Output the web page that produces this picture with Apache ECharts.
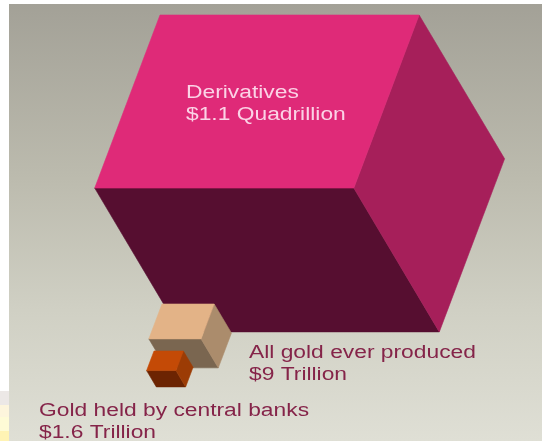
<!DOCTYPE html>
<html>
<head>
<meta charset="utf-8">
<style>html,body{margin:0;padding:0;background:#fff}#chart{width:542px;height:441px}</style>
<script src="https://cdn.jsdelivr.net/npm/echarts@6/dist/echarts.min.js"></script>
</head>
<body>
<div id="chart"></div>
<script>
// Holdings in trillions of dollars; each cube's volume is proportional to its value.
const names = ['Derivatives', 'All gold ever produced', 'Gold held by central banks'];
const amountLabels = ['$1.1 Quadrillion', '$9 Trillion', '$1.6 Trillion'];
const trillions = [1100, 9, 1.6];

// Back corner of each cube's top face, in the page-sized axis units.
const anchorX = [160, 162, 154];
const anchorY = [15, 304, 351];
const faceColors = [
  ['#df2a78', '#a61f5a', '#560e30'],
  ['#e3b387', '#ab8c6c', '#7a6650'],
  ['#c44a06', '#9c3c05', '#6c2402']
];
const textColors = ['#fbd3e6', '#852449', '#852449'];
const labelPos = [[186, 82], [249, 342], [39, 400]];

// Oblique projection of the cube's edges, per unit of edge length.
const EDGE_SCALE = 25.1;
const depth = [-0.252, 0.668];
const drop = [0.33, 0.555];

function renderCube(params, api) {
  const i = params.dataIndex;
  const e = EDGE_SCALE * Math.cbrt(api.value(0));
  const p = (a, d, w) => api.coord([
    api.value(1) + a * e + d * e * depth[0] + w * e * drop[0],
    api.value(2) + d * e * depth[1] + w * e * drop[1]
  ]);
  // A thin stroke in the face colour closes the antialiasing seam between faces.
  const face = (pts, fill) => ({
    type: 'polygon',
    shape: { points: pts },
    style: { fill: fill, stroke: fill, lineWidth: 0.6 },
    silent: true
  });
  return {
    type: 'group',
    children: [
      face([p(0, 1, 0), p(1, 1, 0), p(1, 1, 1), p(0, 1, 1)], faceColors[i][2]),
      face([p(1, 0, 0), p(1, 0, 1), p(1, 1, 1), p(1, 1, 0)], faceColors[i][1]),
      face([p(0, 0, 0), p(1, 0, 0), p(1, 1, 0), p(0, 1, 0)], faceColors[i][0])
    ]
  };
}

function renderLabel(params, api) {
  const i = params.dataIndex;
  const c = api.coord([labelPos[i][0], labelPos[i][1]]);
  return {
    type: 'text',
    x: c[0],
    y: c[1],
    scaleX: 1.267,
    silent: true,
    style: {
      text: names[i] + '\n' + amountLabels[i],
      fill: textColors[i],
      font: '18px "Liberation Sans", Arial, sans-serif',
      lineHeight: 22,
      textVerticalAlign: 'top'
    }
  };
}

const chart = echarts.init(document.getElementById('chart'), null, { renderer: 'canvas' });
chart.setOption({
  animation: false,
  backgroundColor: '#ffffff',
  grid: { left: 0, right: 0, top: 0, bottom: 0 },
  xAxis: { type: 'value', min: 0, max: 542, show: false },
  yAxis: { type: 'value', min: 0, max: 441, inverse: true, show: false },
  graphic: [
    // Slide panel with its top-to-bottom grey wash
    { type: 'rect', z: -1, shape: { x: 9, y: 4, width: 533, height: 437 },
      style: { fill: new echarts.graphic.LinearGradient(0, 0, 0, 1, [
        { offset: 0, color: '#a3a197' },
        { offset: 0.4, color: '#bcbbae' },
        { offset: 0.7, color: '#d0d0c4' },
        { offset: 1, color: '#dfdfd5' }
      ]) } },
    // Pale strip along the lower left margin
    { type: 'rect', z: -1, shape: { x: 0, y: 391, width: 9, height: 14 }, style: { fill: '#ece8e6' } },
    { type: 'rect', z: -1, shape: { x: 0, y: 405, width: 9, height: 12 }, style: { fill: '#fdf5dc' } },
    { type: 'rect', z: -1, shape: { x: 0, y: 417, width: 9, height: 14 }, style: { fill: '#fefbd6' } },
    { type: 'rect', z: -1, shape: { x: 0, y: 431, width: 9, height: 10 }, style: { fill: '#fff3b4' } }
  ],
  series: [
    {
      type: 'custom',
      coordinateSystem: 'cartesian2d',
      renderItem: renderCube,
      encode: { x: 1, y: 2 },
      clip: false,
      data: trillions.map((v, i) => [v, anchorX[i], anchorY[i]])
    },
    {
      type: 'custom',
      coordinateSystem: 'cartesian2d',
      renderItem: renderLabel,
      clip: false,
      z: 5,
      data: names.map((n, i) => [labelPos[i][0], labelPos[i][1]])
    }
  ]
});
</script>
</body>
</html>
